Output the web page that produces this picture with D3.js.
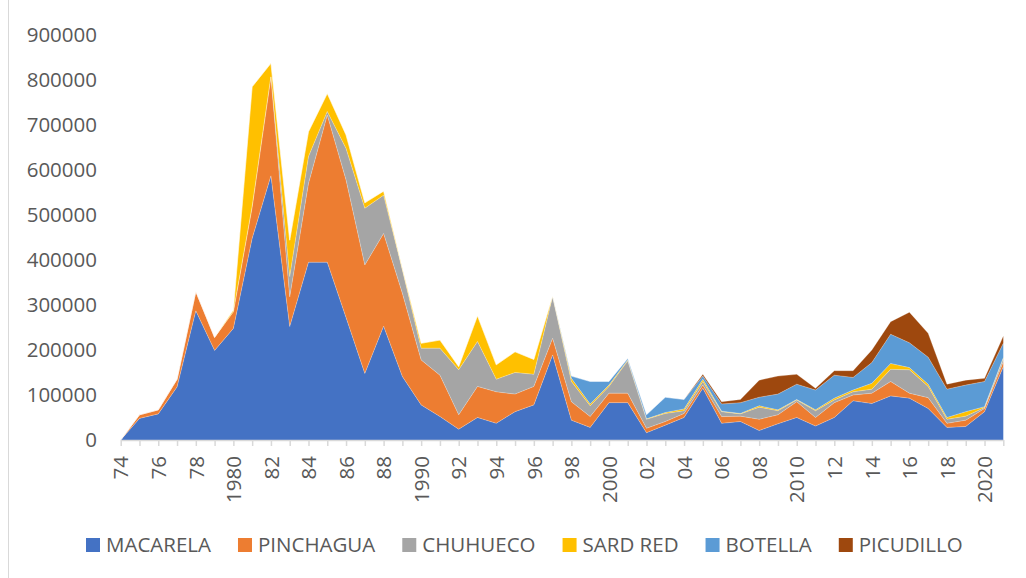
<!DOCTYPE html>
<html>
<head>
<meta charset="utf-8">
<script src="https://cdn.jsdelivr.net/npm/d3@7"></script>
<style>
  body { margin: 0; background: #fff; }
  svg { display: block; font-family: "Open Sans", sans-serif; }
</style>
</head>
<body>
<div id="chart"></div>
<script>
const FRAME_WIDTH = 1026;
const FRAME_HEIGHT = 578;

// data (tonnes)
const YEARS = d3.range(1974, 2022);
const SERIES = ["MACARELA", "PINCHAGUA", "CHUHUECO", "SARD RED", "BOTELLA", "PICUDILLO"];
const COLORS = ["#4472C4", "#ED7D31", "#A5A5A5", "#FFC000", "#5B9BD5", "#9E480E"];

const MACARELA = [0, 48000, 58000, 118000, 287000, 199000, 248000, 448000, 587000, 252000,
  395000, 395000, 272000, 148000, 253000, 141000, 78000, 52000, 24000, 50000,
  37000, 63000, 78000, 189000, 44000, 28000, 83000, 83000, 16000, 33000,
  50000, 115000, 37000, 41000, 21000, 36000, 50000, 31000, 50000, 87000,
  81000, 98000, 93000, 70000, 28000, 30000, 63000, 163000];
const PINCHAGUA = [0, 8000, 9000, 17000, 43000, 29000, 37000, 70000, 220000, 66000,
  175000, 327000, 306000, 241000, 206000, 185000, 100000, 92000, 32000, 69000,
  70000, 39000, 41000, 37000, 41000, 24000, 21000, 21000, 10000, 8000,
  9000, 7000, 15000, 12000, 25000, 20000, 35000, 19000, 33000, 13000,
  23000, 32000, 11000, 24000, 9000, 14000, 7000, 11000];
const CHUHUECO = [0, 0, 0, 0, 0, 0, 0, 0, 0, 45000,
  60000, 8000, 70000, 126000, 85000, 52000, 26000, 60000, 100000, 100000,
  28000, 48000, 27000, 93000, 45000, 24000, 15000, 72000, 20000, 18000,
  6000, 8000, 11000, 5000, 27000, 9000, 4000, 15000, 6000, 7000,
  9000, 27000, 52000, 25000, 9000, 9000, 2000, 7000];
const SARD_RED = [0, 0, 0, 0, 0, 0, 4000, 267000, 30000, 81000,
  55000, 40000, 30000, 12000, 9000, 3000, 11000, 18000, 7000, 57000,
  32000, 46000, 33000, 1000, 7000, 4000, 3000, 2000, 1000, 2000,
  4000, 5000, 1000, 1000, 3000, 2000, 1000, 2000, 4000, 4000,
  13000, 13000, 5000, 5000, 4000, 10000, 2000, 2000];
const BOTELLA = [0, 0, 0, 0, 0, 0, 0, 0, 0, 0,
  0, 0, 0, 0, 0, 0, 0, 0, 0, 0,
  0, 0, 0, 0, 5000, 50000, 8000, 3000, 9000, 34000,
  21000, 7000, 16000, 24000, 19000, 35000, 34000, 44000, 51000, 28000,
  46000, 65000, 55000, 60000, 63000, 59000, 56000, 32000];
const PICUDILLO = [0, 0, 0, 0, 0, 0, 0, 0, 0, 0,
  0, 0, 0, 0, 0, 0, 0, 0, 0, 0,
  0, 0, 0, 0, 0, 0, 0, 0, 0, 0,
  0, 4000, 5000, 7000, 38000, 40000, 22000, 4000, 10000, 15000,
  28000, 28000, 68000, 53000, 11000, 11000, 7000, 16000];
const Y_TICKS = [0, 100000, 200000, 300000, 400000, 500000, 600000, 700000, 800000, 900000];

const VALUES = [MACARELA, PINCHAGUA, CHUHUECO, SARD_RED, BOTELLA, PICUDILLO];
const TABLE = YEARS.map((y, i) => {
  const row = {year: y};
  SERIES.forEach((s, j) => { row[s] = VALUES[j][i]; });
  return row;
});

const FRAME = d3.select("#chart")
  .append("svg")
    .attr("width", FRAME_WIDTH)
    .attr("height", FRAME_HEIGHT);

// left border of the chart box
FRAME.append("line")
  .attr("x1", 8.5).attr("x2", 8.5)
  .attr("y1", 0).attr("y2", FRAME_HEIGHT)
  .attr("stroke", "#D9D9D9");

const X_SCALE = d3.scaleLinear()
  .domain([1974, 2021])
  .range([120.7, 1003.3]);

const Y_SCALE = d3.scaleLinear()
  .domain([0, 900000])
  .range([440, 35]);

const stacked = d3.stack().keys(SERIES)(TABLE);

const area = d3.area()
  .x((d) => X_SCALE(d.data.year))
  .y0((d) => Y_SCALE(d[0]))
  .y1((d) => Y_SCALE(d[1]));

FRAME.selectAll(".layer")
  .data(stacked)
  .enter()
  .append("path")
    .attr("class", "layer")
    .attr("d", area)
    .attr("fill", (d, i) => COLORS[i]);

// thin light edge on top of each layer, like the office chart
const topLine = d3.line()
  .x((d) => X_SCALE(d.data.year))
  .y((d) => Y_SCALE(d[1]));

FRAME.selectAll(".edge")
  .data(stacked)
  .enter()
  .append("path")
    .attr("class", "edge")
    .attr("d", topLine)
    .attr("fill", "none")
    .attr("stroke", "#fff")
    .attr("stroke-opacity", 0.35)
    .attr("stroke-width", 0.75);

// y labels
FRAME.selectAll(".ylab")
  .data(Y_TICKS)
  .enter()
  .append("text")
    .attr("class", "ylab")
    .attr("x", 97)
    .attr("y", (d) => Y_SCALE(d))
    .attr("dy", "0.35em")
    .attr("text-anchor", "end")
    .attr("font-size", "20.5px")
    .attr("fill", "#595959")
    .text((d) => d);

// x axis
const xAxis = FRAME.append("g")
  .attr("transform", "translate(0,440)")
  .call(d3.axisBottom(X_SCALE)
    .tickValues(YEARS)
    .tickSize(6)
    .tickSizeOuter(0)
    .tickFormat((y) => {
      if ((y - 1974) % 2 !== 0) return "";
      return y % 10 === 0 ? String(y) : String(y).slice(2);
    }));

xAxis.select(".domain").attr("stroke", "#D9D9D9").attr("stroke-width", 1.5);
xAxis.selectAll(".tick line").attr("stroke", "#D9D9D9").attr("stroke-width", 1.5);
xAxis.selectAll(".tick text")
  .attr("font-family", "Open Sans, sans-serif")
  .attr("font-size", "20.5px")
  .attr("fill", "#595959")
  .attr("transform", "rotate(-90)")
  .attr("text-anchor", "end")
  .attr("x", -16)
  .attr("y", 0)
  .attr("dy", "0.35em");

// legend
let lx = 86;
SERIES.forEach((s, i) => {
  FRAME.append("rect")
    .attr("x", lx).attr("y", 538)
    .attr("width", 14).attr("height", 14)
    .attr("fill", COLORS[i]);
  const t = FRAME.append("text")
    .attr("x", lx + 20)
    .attr("y", 552)
    .attr("font-size", "20.5px")
    .attr("fill", "#595959")
    .text(s);
  lx += 20 + t.node().getComputedTextLength() + 27;
});
</script>
</body>
</html>
